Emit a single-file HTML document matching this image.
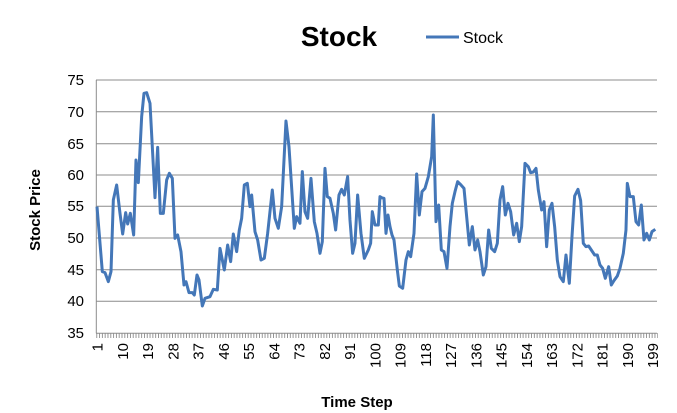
<!DOCTYPE html>
<html><head><meta charset="utf-8"><style>
body{margin:0;background:#fff}
svg{display:block;font-family:"Liberation Sans",sans-serif}
</style></head><body>
<svg width="677" height="413" viewBox="0 0 677 413" xmlns="http://www.w3.org/2000/svg">
<defs>
<pattern id="tk" x="96.3" y="0" width="2.805" height="10" patternUnits="userSpaceOnUse">
<rect x="0" y="0" width="0.9" height="10" fill="#8c8c8c"/>
</pattern>
</defs>
<rect width="677" height="413" fill="#fff"/>
<g stroke="#8c8c8c" stroke-width="1">
<line x1="96" y1="80" x2="657" y2="80"/>
<line x1="96" y1="111.7" x2="657" y2="111.7"/>
<line x1="96" y1="143.7" x2="657" y2="143.7"/>
<line x1="96" y1="175" x2="657" y2="175"/>
<line x1="96" y1="206.3" x2="657" y2="206.3"/>
<line x1="96" y1="238" x2="657" y2="238"/>
<line x1="96" y1="269.7" x2="657" y2="269.7"/>
<line x1="96" y1="301.3" x2="657" y2="301.3"/>
<line x1="96.3" y1="80" x2="96.3" y2="333.3"/>
<line x1="96" y1="333.3" x2="657" y2="333.3"/>
</g>
<rect x="96" y="333" width="562" height="5" fill="url(#tk)"/>
<g font-size="15" fill="#000" text-anchor="end">
<text x="84" y="85">75</text><text x="84" y="117">70</text><text x="84" y="149">65</text><text x="84" y="180">60</text><text x="84" y="211">55</text><text x="84" y="243">50</text><text x="84" y="275">45</text><text x="84" y="306">40</text><text x="84" y="338">35</text>
</g>
<g font-size="15" fill="#000" text-anchor="end">
<text transform="translate(102.7,343) rotate(-90)">1</text>
<text transform="translate(127.9,343) rotate(-90)">10</text>
<text transform="translate(153.2,343) rotate(-90)">19</text>
<text transform="translate(178.4,343) rotate(-90)">28</text>
<text transform="translate(203.6,343) rotate(-90)">37</text>
<text transform="translate(228.9,343) rotate(-90)">46</text>
<text transform="translate(254.1,343) rotate(-90)">55</text>
<text transform="translate(279.4,343) rotate(-90)">64</text>
<text transform="translate(304.6,343) rotate(-90)">73</text>
<text transform="translate(329.9,343) rotate(-90)">82</text>
<text transform="translate(355.1,343) rotate(-90)">91</text>
<text transform="translate(380.3,343) rotate(-90)">100</text>
<text transform="translate(405.6,343) rotate(-90)">109</text>
<text transform="translate(430.8,343) rotate(-90)">118</text>
<text transform="translate(456.1,343) rotate(-90)">127</text>
<text transform="translate(481.3,343) rotate(-90)">136</text>
<text transform="translate(506.6,343) rotate(-90)">145</text>
<text transform="translate(531.8,343) rotate(-90)">154</text>
<text transform="translate(557.0,343) rotate(-90)">163</text>
<text transform="translate(582.3,343) rotate(-90)">172</text>
<text transform="translate(607.5,343) rotate(-90)">181</text>
<text transform="translate(632.8,343) rotate(-90)">190</text>
<text transform="translate(658.0,343) rotate(-90)">199</text>
</g>
<g fill="none" stroke="#4477b8" stroke-width="3" stroke-linejoin="round">
<polyline vector-effect="non-scaling-stroke" transform="translate(85,70) scale(0.3333)" points="36,410 52,605 60,608 70,635 78,605 85,390 95,345 105,430 113,492 122,428 128,462 136,430 146,495 153,270 160,338 170,140 177,70 185,68 195,100 203,250 210,383 218,232 226,430 235,430 245,330 253,310 262,325 270,505 278,495 288,545 297,645 303,635 312,668 322,668 328,675 336,615 342,630 352,708 360,685 375,680 385,658 397,660 405,535 418,600 428,525 437,575 445,492 455,545 463,480 470,445 478,345 487,340 495,410 500,375 510,485 518,510 528,570 538,565 548,490 562,360 570,445 580,475 590,410 603,153 612,230 628,475 635,440 645,460 652,305 660,425 668,445 678,325 688,455 696,490 705,550 712,515 720,295 727,380 735,385 745,430 752,480 762,375 770,358 778,375 788,320 795,450 803,550 810,520 818,375 828,490 838,565 850,540 857,520 862,425 870,465 880,465 885,380 890,383"/>
<polyline vector-effect="non-scaling-stroke" transform="translate(380,70) scale(0.3333)" points="3,383 12,385 18,490 24,435 30,470 36,495 42,510 52,600 58,648 68,655 78,570 85,545 92,560 102,490 110,312 118,435 126,365 135,355 145,320 155,260 160,135 168,455 176,405 184,540 192,545 201,595 210,470 217,400 225,365 233,335 243,345 252,355 260,440 268,525 277,470 285,540 293,510 300,545 310,615 318,590 326,480 334,535 344,545 352,520 360,390 368,350 376,435 384,400 392,425 401,495 410,460 418,515 425,470 435,280 445,290 452,308 460,306 468,295 475,360 485,420 492,395 500,530 508,420 516,400 524,470 532,570 540,620 550,635 558,555 568,640 576,500 584,378 594,358 602,392 610,520 618,530 626,528 634,540 644,555 652,555 660,585 668,595 676,625 686,590 694,645 702,632 712,618 720,595 730,550 738,480 742,340 750,380 760,380 768,455 776,465 784,405 792,510 800,490 808,510 816,485 826,478"/>
</g>
<text x="339" y="46" font-size="28" font-weight="bold" text-anchor="middle">Stock</text>
<line x1="426" y1="37" x2="459" y2="37" stroke="#4477b8" stroke-width="3"/>
<text x="463" y="43" font-size="16">Stock</text>
<text transform="translate(40,210) rotate(-90)" font-size="15" font-weight="bold" text-anchor="middle">Stock Price</text>
<text x="357" y="407" font-size="15" font-weight="bold" text-anchor="middle">Time Step</text>
</svg>
</body></html>
